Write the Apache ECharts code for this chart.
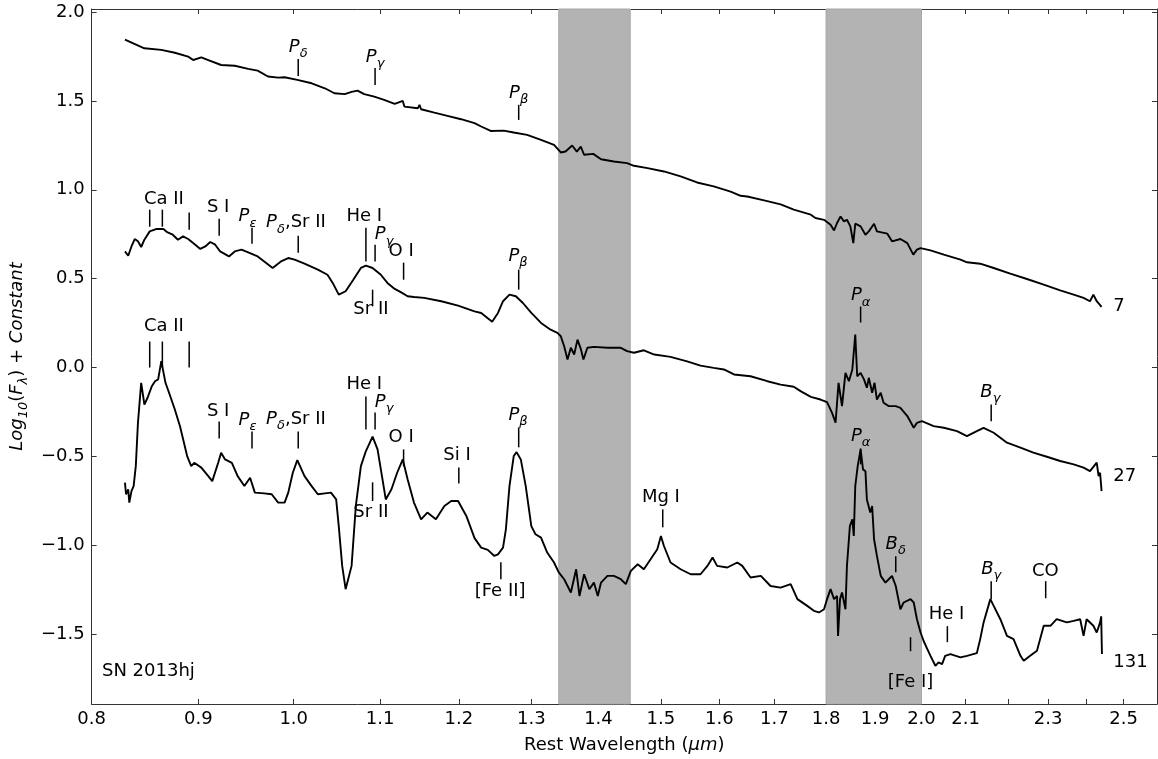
<!DOCTYPE html>
<html><head><meta charset="utf-8">
<script src="https://cdn.jsdelivr.net/npm/echarts@6/dist/echarts.min.js"></script>
<style>html,body{margin:0;padding:0;background:#fff}#c{width:1158px;height:759px}</style>
</head><body><div id="c"></div>
<script>
// ---- spectrum "7" ----
const wave7 = [0.830,0.848,0.864,0.877,0.890,0.895,0.903,0.910,0.923,0.937,0.951,0.961,0.972,0.983,0.990,1.004,1.020,1.035,1.046,1.058,1.066,1.073,1.081,1.093,1.105,1.118,1.128,1.130,1.147,1.149,1.151,1.168,1.185,1.203,1.221,1.230,1.243,1.261,1.275,1.294,1.314,1.333,1.343,1.350,1.360,1.367,1.373,1.378,1.392,1.404,1.424,1.445,1.456,1.478,1.505,1.533,1.561,1.590,1.620,1.638,1.650,1.681,1.712,1.737,1.770,1.779,1.796,1.809,1.816,1.822,1.829,1.836,1.842,1.849,1.855,1.859,1.870,1.880,1.887,1.898,1.904,1.926,1.936,1.954,1.969,1.982,1.990,1.998,2.020,2.050,2.088,2.103,2.134,2.166,2.206,2.247,2.289,2.331,2.366,2.392,2.409,2.418,2.427,2.440];
const flux7 = [1.845,1.796,1.787,1.771,1.749,1.730,1.745,1.730,1.702,1.698,1.680,1.670,1.637,1.631,1.633,1.618,1.599,1.571,1.543,1.538,1.551,1.558,1.538,1.524,1.506,1.483,1.500,1.468,1.459,1.478,1.453,1.434,1.416,1.397,1.375,1.356,1.331,1.333,1.322,1.309,1.281,1.253,1.210,1.215,1.249,1.215,1.243,1.197,1.202,1.172,1.159,1.150,1.135,1.122,1.103,1.075,1.041,1.019,0.990,0.966,0.962,0.940,0.918,0.888,0.860,0.841,0.831,0.803,0.771,0.813,0.850,0.822,0.831,0.794,0.700,0.809,0.794,0.747,0.766,0.809,0.766,0.753,0.710,0.723,0.700,0.635,0.663,0.672,0.659,0.635,0.607,0.592,0.584,0.560,0.528,0.498,0.466,0.434,0.410,0.392,0.373,0.410,0.373,0.341];

// ---- spectrum "27" ----
const wave27 = [0.830,0.833,0.836,0.839,0.842,0.845,0.848,0.853,0.859,0.866,0.870,0.875,0.880,0.885,0.890,0.897,0.902,0.907,0.912,0.917,0.922,0.931,0.937,0.944,0.951,0.961,0.968,0.977,0.986,0.994,1.001,1.012,1.027,1.038,1.044,1.051,1.059,1.068,1.077,1.083,1.091,1.101,1.109,1.118,1.126,1.134,1.142,1.155,1.177,1.199,1.221,1.230,1.245,1.253,1.260,1.269,1.278,1.288,1.300,1.314,1.328,1.338,1.343,1.348,1.353,1.358,1.363,1.368,1.373,1.377,1.383,1.393,1.414,1.435,1.445,1.456,1.472,1.489,1.516,1.544,1.567,1.590,1.608,1.626,1.656,1.687,1.712,1.737,1.750,1.770,1.789,1.802,1.812,1.819,1.825,1.832,1.839,1.846,1.853,1.859,1.863,1.870,1.877,1.883,1.887,1.894,1.899,1.904,1.912,1.918,1.929,1.944,1.954,1.969,1.983,1.990,2.001,2.027,2.050,2.080,2.103,2.126,2.142,2.166,2.198,2.231,2.263,2.297,2.331,2.366,2.392,2.409,2.427,2.432,2.436,2.440];
const flux27 = [0.653,0.629,0.681,0.723,0.710,0.678,0.719,0.766,0.779,0.779,0.760,0.747,0.719,0.738,0.723,0.691,0.667,0.681,0.706,0.691,0.653,0.625,0.653,0.663,0.648,0.625,0.597,0.560,0.597,0.616,0.607,0.584,0.551,0.522,0.476,0.410,0.429,0.494,0.560,0.573,0.560,0.522,0.476,0.442,0.423,0.401,0.397,0.392,0.373,0.348,0.316,0.307,0.258,0.307,0.373,0.410,0.401,0.363,0.307,0.251,0.213,0.195,0.176,0.120,0.045,0.111,0.073,0.157,0.105,0.045,0.111,0.116,0.111,0.111,0.092,0.083,0.097,0.073,0.060,0.035,0.011,-0.002,-0.011,-0.039,-0.049,-0.077,-0.096,-0.108,-0.133,-0.165,-0.180,-0.195,-0.255,-0.311,-0.086,-0.217,-0.030,-0.077,-0.011,0.185,-0.049,-0.030,-0.067,-0.114,-0.058,-0.142,-0.086,-0.180,-0.142,-0.198,-0.217,-0.217,-0.227,-0.273,-0.339,-0.311,-0.302,-0.330,-0.339,-0.358,-0.386,-0.358,-0.339,-0.367,-0.423,-0.451,-0.479,-0.502,-0.526,-0.545,-0.563,-0.583,-0.535,-0.611,-0.592,-0.695];

// ---- spectrum "131" ----
const wave131 = [0.830,0.831,0.833,0.834,0.836,0.838,0.840,0.842,0.845,0.848,0.851,0.855,0.858,0.861,0.864,0.868,0.872,0.877,0.882,0.889,0.893,0.896,0.903,0.910,0.914,0.920,0.923,0.927,0.934,0.940,0.947,0.953,0.958,0.968,0.976,0.983,0.990,0.994,0.999,1.004,1.012,1.020,1.027,1.035,1.042,1.048,1.051,1.055,1.059,1.066,1.071,1.077,1.083,1.091,1.097,1.103,1.107,1.114,1.121,1.128,1.134,1.142,1.151,1.159,1.170,1.181,1.190,1.199,1.210,1.221,1.230,1.239,1.248,1.253,1.260,1.264,1.269,1.275,1.279,1.285,1.292,1.300,1.306,1.314,1.323,1.333,1.340,1.348,1.358,1.366,1.371,1.378,1.386,1.393,1.399,1.404,1.414,1.424,1.435,1.443,1.451,1.462,1.472,1.483,1.494,1.500,1.505,1.516,1.533,1.550,1.567,1.579,1.588,1.596,1.614,1.632,1.641,1.656,1.675,1.693,1.712,1.731,1.744,1.763,1.776,1.786,1.796,1.802,1.809,1.816,1.822,1.824,1.828,1.832,1.839,1.842,1.848,1.853,1.856,1.859,1.864,1.870,1.875,1.880,1.883,1.890,1.894,1.898,1.904,1.912,1.922,1.929,1.936,1.944,1.954,1.961,1.976,1.983,1.990,1.998,2.005,2.013,2.020,2.031,2.038,2.046,2.053,2.065,2.088,2.103,2.126,2.134,2.142,2.158,2.166,2.182,2.198,2.214,2.231,2.239,2.255,2.272,2.289,2.306,2.322,2.348,2.366,2.383,2.392,2.400,2.418,2.427,2.436,2.439,2.441];
const flux131 = [-0.648,-0.713,-0.685,-0.760,-0.695,-0.667,-0.555,-0.311,-0.086,-0.208,-0.170,-0.105,-0.077,-0.067,0.036,-0.086,-0.152,-0.236,-0.330,-0.498,-0.555,-0.536,-0.563,-0.611,-0.639,-0.536,-0.479,-0.517,-0.536,-0.611,-0.667,-0.620,-0.704,-0.708,-0.713,-0.760,-0.760,-0.704,-0.592,-0.521,-0.611,-0.667,-0.713,-0.708,-0.704,-0.742,-0.892,-1.116,-1.247,-1.116,-0.779,-0.555,-0.470,-0.389,-0.461,-0.629,-0.742,-0.685,-0.592,-0.517,-0.629,-0.760,-0.854,-0.816,-0.854,-0.779,-0.751,-0.751,-0.835,-0.960,-1.013,-1.026,-1.060,-1.051,-1.013,-0.910,-0.667,-0.498,-0.476,-0.517,-0.667,-0.892,-0.938,-0.957,-1.041,-1.097,-1.153,-1.191,-1.266,-1.135,-1.285,-1.163,-1.247,-1.210,-1.285,-1.210,-1.172,-1.172,-1.191,-1.219,-1.144,-1.107,-1.135,-1.079,-1.022,-0.948,-1.004,-1.097,-1.135,-1.163,-1.163,-1.116,-1.069,-1.116,-1.125,-1.097,-1.116,-1.181,-1.172,-1.229,-1.238,-1.219,-1.303,-1.341,-1.369,-1.378,-1.360,-1.303,-1.247,-1.303,-1.285,-1.510,-1.303,-1.266,-1.360,-1.116,-0.892,-0.854,-0.948,-0.667,-0.555,-0.461,-0.573,-0.583,-0.742,-0.816,-0.779,-0.966,-1.060,-1.172,-1.210,-1.191,-1.172,-1.229,-1.360,-1.322,-1.303,-1.322,-1.416,-1.491,-1.540,-1.584,-1.622,-1.678,-1.659,-1.669,-1.622,-1.612,-1.631,-1.622,-1.607,-1.528,-1.434,-1.303,-1.341,-1.416,-1.510,-1.528,-1.622,-1.650,-1.622,-1.594,-1.453,-1.453,-1.416,-1.434,-1.425,-1.416,-1.510,-1.416,-1.453,-1.491,-1.434,-1.400,-1.612];

// ---- axes ----
const xTickValues = [0.8,0.9,1.0,1.1,1.2,1.3,1.4,1.5,1.6,1.7,1.8,1.9,2.0,2.1,2.2,2.3,2.4,2.5];
const xLabelValues = [0.8,0.9,1.0,1.1,1.2,1.3,1.4,1.5,1.6,1.7,1.8,1.9,2.0,2.1,2.3,2.5];
const yTickValues = [-1.5,-1.0,-0.5,0.0,0.5,1.0,1.5,2.0];

// ---- shaded telluric bands [start, end] ----
const shadeBands = [[1.34,1.45],[1.80,2.00]];

// ---- line identification marks [wavelength, top, bottom] ----
const lineMarks = [
  [1.005,1.736,1.640],[1.094,1.685,1.590],[1.282,1.478,1.393],
  [0.853,0.888,0.792],[0.865,0.888,0.792],[0.891,0.872,0.775],[0.921,0.837,0.742],[0.955,0.787,0.697],
  [1.005,0.742,0.646],[1.083,0.787,0.596],[1.094,0.691,0.596],[1.129,0.590,0.494],[1.091,0.438,0.344],
  [1.282,0.551,0.438],[1.870,0.343,0.253],[2.160,-0.208,-0.302],
  [0.853,0.146,0.0],[0.865,0.146,0.0],[0.891,0.146,0.0],[0.921,-0.303,-0.399],[0.955,-0.360,-0.455],
  [1.005,-0.360,-0.455],[1.083,-0.163,-0.348],[1.094,-0.253,-0.348],[1.129,-0.461,-0.556],[1.091,-0.646,-0.751],
  [1.200,-0.562,-0.652],[1.282,-0.337,-0.449],[1.257,-1.096,-1.191],[1.503,-0.798,-0.899],[1.870,-0.455,-0.545],
  [1.944,-1.062,-1.152],[1.976,-1.517,-1.596],[2.058,-1.455,-1.545],[2.160,-1.202,-1.303],[2.294,-1.202,-1.298]
];
// ---- line identification labels [wavelength, y, text] ----
const lineLabels = [
  [1.005,1.803,'Pδ'],[1.094,1.747,'Pγ'],[1.282,1.545,'Pβ'],
  [0.8665,0.944,'Ca II'],[0.920,0.899,'S I'],[0.9503,0.848,'Pε'],[1.0025,0.815,'Pδ,Sr II'],[1.081,0.848,'He I'],
  [1.105,0.747,'Pγ'],[1.126,0.652,'O I'],[1.089,0.326,'Sr II'],[1.281,0.624,'Pβ'],[1.870,0.404,'Pα'],[2.158,-0.140,'Bγ'],
  [0.8665,0.230,'Ca II'],[0.920,-0.247,'S I'],[0.9503,-0.298,'Pε'],[1.0025,-0.292,'Pδ,Sr II'],[1.081,-0.096,'He I'],
  [1.105,-0.197,'Pγ'],[1.126,-0.393,'O I'],[1.089,-0.815,'Sr II'],[1.1976,-0.494,'Si I'],[1.281,-0.270,'Pβ'],
  [1.256,-1.258,'[Fe II]'],[1.500,-0.730,'Mg I'],[1.870,-0.388,'Pα'],[1.944,-0.994,'Bδ'],[1.976,-1.770,'[Fe I]'],
  [2.056,-1.388,'He I'],[2.160,-1.135,'Bγ'],[2.293,-1.146,'CO']
];
// ---- epoch labels (days) ----
const epochLabels = [[2.472,0.343,'7'],[2.472,-0.612,'27'],[2.472,-1.657,'131']];

const FONT = 'DejaVu Sans';
const AX = '#333';
const rich = {
  n: {fontSize: 18, fontFamily: FONT, color: '#000', lineHeight: 26},
  it: {fontSize: 18, fontFamily: FONT, fontStyle: 'italic', color: '#000', lineHeight: 26},
  sub: {fontSize: 13, fontFamily: FONT, fontStyle: 'italic', color: '#000', lineHeight: 14, verticalAlign: 'bottom'}
};
function fmtLabel(t) {
  const m = t.match(/^([PB])([α-ω])(.*)$/);
  if (m) return '{it|' + m[1] + '}{sub|' + m[2] + '}' + (m[3] ? '{n|' + m[3] + '}' : '');
  return '{n|' + t + '}';
}
const zip = (a, b) => a.map((v, i) => [v, b[i]]);
const specStyle = {type: 'line', xAxisIndex: 0, yAxisIndex: 0, showSymbol: false, symbol: 'none', z: 3,
  lineStyle: {color: '#000', width: 1.9}, animation: false, silent: true};

const chart = echarts.init(document.getElementById('c'), null, {renderer: 'canvas'});
const baseX = {type: 'log', logBase: 10, min: 0.8, max: 2.594, splitLine: {show: false}, minorTick: {show: false}};
const baseY = {type: 'value', min: -1.893, max: 2.017, splitLine: {show: false}, minorTick: {show: false}};
chart.setOption({
  animation: false,
  backgroundColor: '#fff',
  grid: {left: 90, right: 1, top: 9, bottom: 54},
  xAxis: [
    Object.assign({}, baseX, {position: 'bottom',
      axisLine: {show: true, onZero: false, lineStyle: {color: AX, width: 1}},
      axisTick: {show: true, inside: true, length: 5, customValues: xTickValues, lineStyle: {color: AX}},
      axisLabel: {show: true, customValues: xLabelValues, formatter: v => Number(v).toFixed(1),
        fontSize: 18, fontFamily: FONT, color: '#000', margin: 6},
      name: '{n|Rest Wavelength (}{it|μm}{n|)}', nameLocation: 'middle', nameGap: 28,
      nameTextStyle: {rich: rich}}),
    Object.assign({}, baseX, {position: 'top',
      axisLine: {show: true, onZero: false, lineStyle: {color: AX, width: 1}},
      axisTick: {show: true, inside: true, length: 5, customValues: xTickValues, lineStyle: {color: AX}},
      axisLabel: {show: false}})
  ],
  yAxis: [
    Object.assign({}, baseY, {position: 'left',
      axisLine: {show: true, onZero: false, lineStyle: {color: AX, width: 1}},
      axisTick: {show: true, inside: true, length: 5, customValues: yTickValues, lineStyle: {color: AX}},
      axisLabel: {show: true, customValues: yTickValues,
        formatter: v => (v < 0 ? '\u2212' : '') + Math.abs(v).toFixed(1),
        fontSize: 18, fontFamily: FONT, color: '#000', margin: 7},
      name: '{it|Log}{sub|10}{n|(}{it|F}{sub|λ}{n|) + }{it|Constant}', nameLocation: 'middle', nameGap: 55, nameRotate: 90,
      nameTextStyle: {rich: rich}}),
    Object.assign({}, baseY, {position: 'right',
      axisLine: {show: true, onZero: false, lineStyle: {color: AX, width: 1}},
      axisTick: {show: true, inside: true, length: 5, customValues: yTickValues, lineStyle: {color: AX}},
      axisLabel: {show: false}})
  ],
  graphic: [{type: 'text', left: 102, top: 662, style: {text: 'SN 2013hj', fontSize: 18, fontFamily: FONT, fill: '#000'}}],
  series: [
    {type: 'custom', xAxisIndex: 0, yAxisIndex: 0, z: 1, silent: true, animation: false,
      data: shadeBands,
      renderItem: function (params, api) {
        const p1 = api.coord([api.value(0), 0]);
        const p2 = api.coord([api.value(1), 0]);
        const cs = params.coordSys;
        return {type: 'rect', shape: {x: p1[0], y: cs.y, width: p2[0] - p1[0], height: cs.height},
          style: {fill: '#b3b3b3', stroke: '#a8a8a8', lineWidth: 1}};
      }},
    Object.assign({}, specStyle, {name: '7', data: zip(wave7, flux7)}),
    Object.assign({}, specStyle, {name: '27', data: zip(wave27, flux27)}),
    Object.assign({}, specStyle, {name: '131', data: zip(wave131, flux131)}),
    {type: 'custom', xAxisIndex: 0, yAxisIndex: 0, z: 4, silent: true, animation: false,
      data: lineMarks,
      renderItem: function (params, api) {
        const a = api.coord([api.value(0), api.value(1)]);
        const b = api.coord([api.value(0), api.value(2)]);
        return {type: 'line', shape: {x1: a[0], y1: a[1], x2: b[0], y2: b[1]},
          style: {stroke: '#000', lineWidth: 1.5}};
      }},
    {type: 'custom', xAxisIndex: 0, yAxisIndex: 0, z: 5, silent: true, animation: false,
      data: lineLabels.map(d => [d[0], d[1]]),
      renderItem: function (params, api) {
        const p = api.coord([api.value(0), api.value(1)]);
        const t = lineLabels[params.dataIndex][2];
        return {type: 'text', x: p[0], y: p[1],
          style: {text: fmtLabel(t), rich: rich, align: 'center', verticalAlign: 'middle'}};
      }},
    {type: 'custom', xAxisIndex: 0, yAxisIndex: 0, z: 5, silent: true, animation: false,
      data: epochLabels.map(d => [d[0], d[1]]),
      renderItem: function (params, api) {
        const p = api.coord([api.value(0), api.value(1)]);
        const t = epochLabels[params.dataIndex][2];
        return {type: 'text', x: p[0], y: p[1],
          style: {text: t, fontSize: 18, fontFamily: FONT, fill: '#000', align: 'left', verticalAlign: 'middle'}};
      }}
  ]
});
</script>
</body></html>
